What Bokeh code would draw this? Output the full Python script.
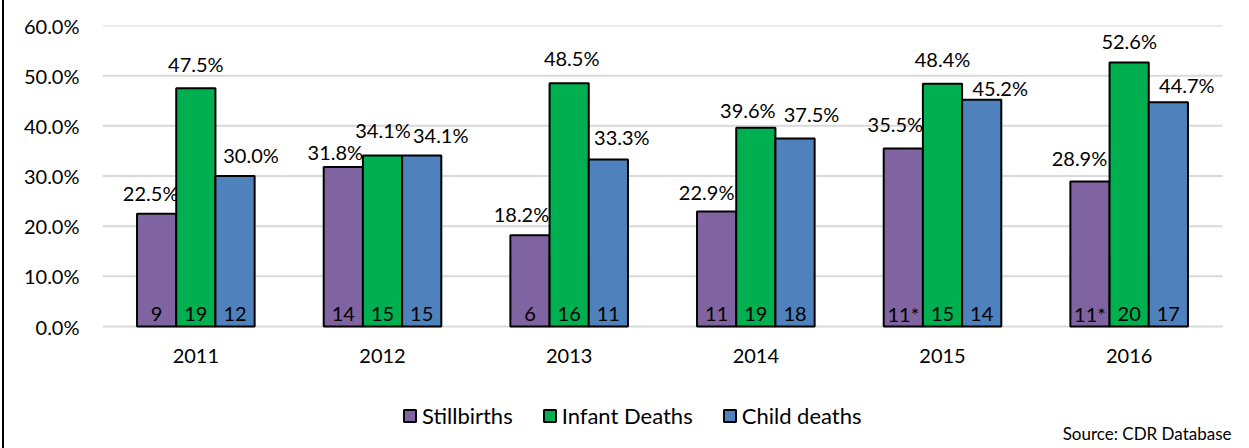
from bokeh.plotting import figure
from bokeh.models import (ColumnDataSource, NumeralTickFormatter, FixedTicker,
                          Legend, LegendItem, Label, Range1d)
from bokeh.core.properties import value
from bokeh.embed import file_html
from bokeh.resources import INLINE

# Share of deaths by year and category (percent) with case counts
years = ["2011", "2012", "2013", "2014", "2015", "2016"]
stillbirths_pct = [22.5, 31.8, 18.2, 22.9, 35.5, 28.9]
infant_pct = [47.5, 34.1, 48.5, 39.6, 48.4, 52.6]
child_pct = [30.0, 34.1, 33.3, 37.5, 45.2, 44.7]
stillbirths_n = ["9", "14", "6", "11", "11*", "11*"]
infant_n = ["19", "15", "16", "19", "15", "20"]
child_n = ["12", "15", "11", "18", "14", "17"]
y_ticks = [0, 0.1, 0.2, 0.3, 0.4, 0.5, 0.6]

# Hand-placed nudges (px) for the percent labels: horizontal shift, lift above bar
still_dx = [-6, -8, -8.5, -10, -8, -10.5]
infant_dx = [0, 0.5, 2.5, -8, 0, 0]
child_dx = [16, 19, 13.5, 16.5, 18.5, 18.5]
still_lift = [14, 8, 14, 13, 17, 17]
infant_lift = [17, 18, 18, 11, 18, 15]
child_lift = [14, 13, 15, 17, 5, 10]

FONT = "Lato"
BAR_W = 0.21
BASELINE_FIX = 7  # alphabetic baseline sits a little low in the svg output

# Plot geometry (px): the frame runs to the right and bottom edges so that the
# legend and source note can live inside it, below the year labels.
W, H = 1245, 448
LEFT, TOP = 98, 25
PLOT_W, PLOT_H = 1120, 301          # area spanned by the six groups and 0..60 %
FRAME_W, FRAME_H = W - LEFT, H - TOP
n_groups = len(years)
x_end = n_groups * FRAME_W / PLOT_W
y_top = y_ticks[-1]
y_start = -y_top * (FRAME_H - PLOT_H) / PLOT_H

p = figure(
    x_range=Range1d(0, x_end),
    y_range=Range1d(y_start, y_top),
    width=W, height=H,
    min_border_left=LEFT, min_border_right=0,
    min_border_top=TOP, min_border_bottom=0,
    output_backend="svg", toolbar_location=None,
    outline_line_color=None,
    styles={"border-left": "2px solid #000", "margin-left": "2px"},
)

# Horizontal grid lines, spanning only the group area
p.segment(x0=[0] * len(y_ticks), x1=[n_groups] * len(y_ticks),
          y0=y_ticks, y1=y_ticks, line_color="#d9d9d9", line_width=2)

centers = [i + 0.5 for i in range(n_groups)]

series = [
    ("Stillbirths", stillbirths_pct, stillbirths_n, still_dx, still_lift, "#8064A2", -BAR_W),
    ("Infant Deaths", infant_pct, infant_n, infant_dx, infant_lift, "#00B050", 0.0),
    ("Child deaths", child_pct, child_n, child_dx, child_lift, "#4F81BD", BAR_W),
]

items = []
for name, pct, counts, dx, lift, color, shift in series:
    src = ColumnDataSource(dict(
        x=[c + shift for c in centers],
        frac=[v / 100 for v in pct],
        pct_label=[f"{v:.1f}%" for v in pct],
        count=counts,
        dx=dx,
        dy=[-(g + BASELINE_FIX) for g in lift],
        zero=[0] * n_groups,
    ))
    r = p.vbar(x="x", top="frac", width=BAR_W, source=src,
               fill_color=color, line_color="#000000", line_width=2)
    p.text(x="x", y="frac", text="pct_label", source=src,
           x_offset="dx", y_offset="dy",
           text_align="center", text_baseline="alphabetic",
           text_font=value(FONT), text_font_size="20px", text_color="#000000")
    p.text(x="x", y="zero", text="count", source=src,
           y_offset=-(6 + BASELINE_FIX),
           text_align="center", text_baseline="alphabetic",
           text_font=value(FONT), text_font_size="20px", text_color="#000000")
    items.append(LegendItem(label=name, renderers=[r]))

# Y axis: percentages
p.yaxis.ticker = FixedTicker(ticks=y_ticks)
p.yaxis.formatter = NumeralTickFormatter(format="0.0%")
p.yaxis.axis_line_color = None
p.yaxis.major_tick_line_color = None
p.yaxis.minor_tick_line_color = None
p.yaxis.major_label_standoff = 17
p.yaxis.major_label_text_font = FONT
p.yaxis.major_label_text_font_size = "20px"
p.yaxis.major_label_text_color = "#000000"

# X axis: one tick per year, pinned to the zero line
p.xaxis.ticker = FixedTicker(ticks=centers)
p.xaxis.major_label_overrides = {c: y for c, y in zip(centers, years)}
p.xaxis.fixed_location = 0
p.xaxis.axis_line_color = None
p.xaxis.major_tick_line_color = None
p.xaxis.minor_tick_line_color = None
p.xaxis.major_label_standoff = 16
p.xaxis.major_label_text_font = FONT
p.xaxis.major_label_text_font_size = "20px"
p.xaxis.major_label_text_color = "#000000"

p.grid.grid_line_color = None

legend = Legend(items=items, orientation="horizontal", location=(300, 19),
                padding=0, margin=0, spacing=29, label_standoff=5,
                glyph_width=15, glyph_height=15,
                label_text_font=FONT, label_text_font_size="22px",
                label_text_color="#000000",
                border_line_color=None, background_fill_alpha=0)
p.add_layout(legend, "center")

source_note = Label(x=1129, y=15, x_units="screen", y_units="screen",
                    text="Source: CDR Database", text_align="right",
                    text_baseline="middle", text_font=FONT,
                    text_font_size="17px", text_color="#000000")
p.add_layout(source_note)

open("out.html", "w").write(file_html(p, INLINE))
